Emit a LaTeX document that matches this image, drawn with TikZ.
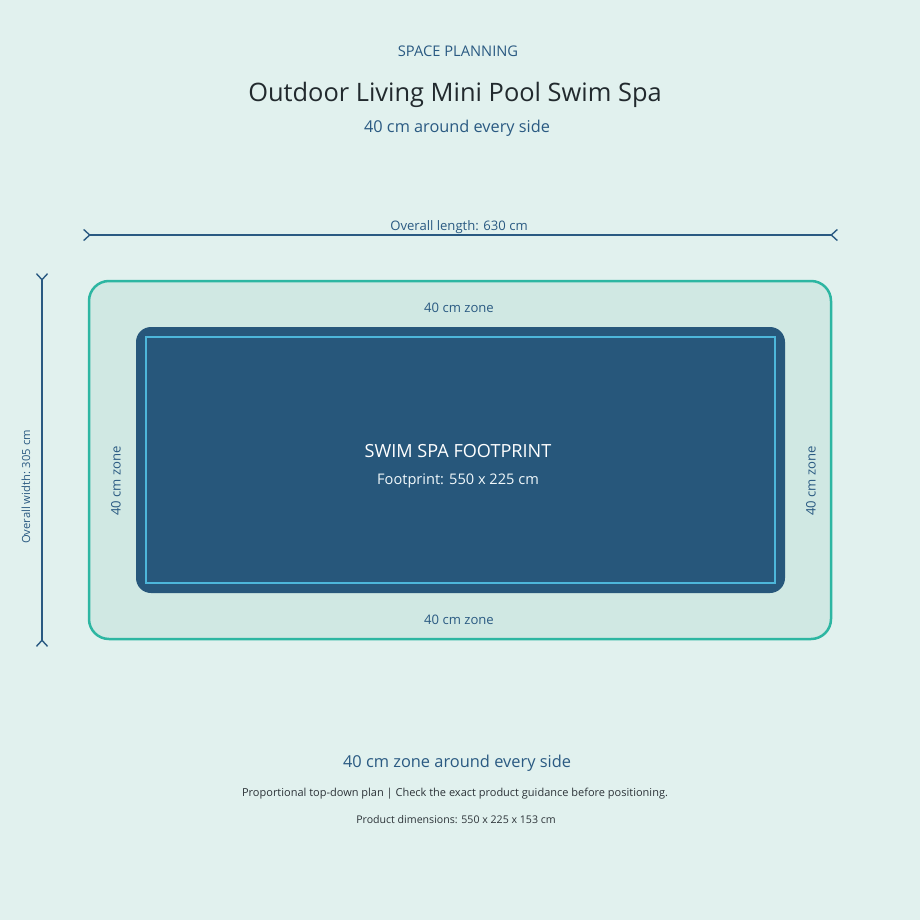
\documentclass[tikz,border=0pt]{standalone}
\usepackage{fontspec}
\setmainfont{Open Sans}
\usetikzlibrary{arrows.meta}
\definecolor{bgmint}{HTML}{E1F1EE}
\definecolor{zonefill}{HTML}{D0E8E3}
\definecolor{zoneline}{HTML}{2DB6A2}
\definecolor{spafill}{HTML}{27577B}
\definecolor{spaline}{HTML}{4DB6DA}
\definecolor{dimblue}{HTML}{2A5A82}
\definecolor{titledark}{HTML}{222A2E}
\definecolor{textdark}{HTML}{2C3338}
\tikzset{
  dimline/.style={draw=dimblue, line width=1.4pt, >={Straight Barb[length=6pt,width=11pt]}},
  bluetext/.style={text=dimblue, inner sep=0pt},
}
\begin{document}
\begin{tikzpicture}[x=1pt,y=-1pt]
% background
\fill[bgmint] (0,0) rectangle (920,920);
\useasboundingbox (0,0) rectangle (920,920);

% Drawing zone and footprint
\draw[zoneline, fill=zonefill, line width=2.5pt, rounded corners=20pt] (89,281) rectangle (831,639);%
\fill[spafill, rounded corners=15pt] (136,327) rectangle (785,593);%
\draw[spaline, line width=1.2pt] (146,337) rectangle (775,583);%

% Drawing dimension lines
\coordinate (lenA) at (83,235);
\coordinate (lenB) at (838,235);
\coordinate (widA) at (42,273);
\coordinate (widB) at (42,647);
\draw[dimline, >-<] (lenA) -- (lenB);%
\draw[dimline, >-<] (widA) -- (widB);%

% Marking headings
\node[bluetext, anchor=base, font=\fontsize{14.7}{17}\selectfont] (kicker) at (458,57) {SPACE PLANNING};%
\node[text=titledark, inner sep=0pt, anchor=base, font=\fontsize{25.4}{30}\selectfont] (title) at (455,102) {Outdoor Living Mini Pool Swim Spa};%
\node[bluetext, anchor=base, font=\fontsize{16.3}{19}\selectfont] (subtitle) at (457,133) {40 cm around every side};%

% Marking dimension labels
\node[bluetext, anchor=base, font=\fontsize{13.1}{15}\selectfont] (lenlabel) at (459,230) {Overall length: 630 cm};%
\node[bluetext, rotate=90, font=\fontsize{11.2}{13}\selectfont] (widlabel) at (26,487) {Overall width: 305 cm};%

% Marking zone labels
\node[bluetext, anchor=base, font=\fontsize{13.1}{15}\selectfont] (zonetop) at (459,312) {40 cm zone};%
\node[bluetext, anchor=base, font=\fontsize{13.1}{15}\selectfont] (zonebottom) at (459,624) {40 cm zone};%
\node[bluetext, rotate=90, font=\fontsize{13.1}{15}\selectfont] (zoneleft) at (116,481) {40 cm zone};%
\node[bluetext, rotate=90, font=\fontsize{13.1}{15}\selectfont] (zoneright) at (811,481) {40 cm zone};%

% Marking footprint labels
\node[text=white, inner sep=0pt, anchor=base, font=\fontsize{18.1}{22}\selectfont] (spaname) at (458,457) {SWIM SPA FOOTPRINT};%
\node[text=white!92!spaline, inner sep=0pt, anchor=base, font=\fontsize{14.6}{17}\selectfont] (spasize) at (458,484) {Footprint: 550 x 225 cm};%

% Marking notes
\node[bluetext, anchor=base, font=\fontsize{16.4}{20}\selectfont] (zonenote) at (457,767) {40 cm zone around every side};%
\node[text=textdark, inner sep=0pt, anchor=base, font=\fontsize{11}{13}\selectfont] (plannote) at (455,796) {Proportional top-down plan | Check the exact product guidance before positioning.};%
\node[text=textdark, inner sep=0pt, anchor=base, font=\fontsize{10.6}{12}\selectfont] (dimnote) at (456,823) {Product dimensions: 550 x 225 x 153 cm};%
\end{tikzpicture}
\end{document}
